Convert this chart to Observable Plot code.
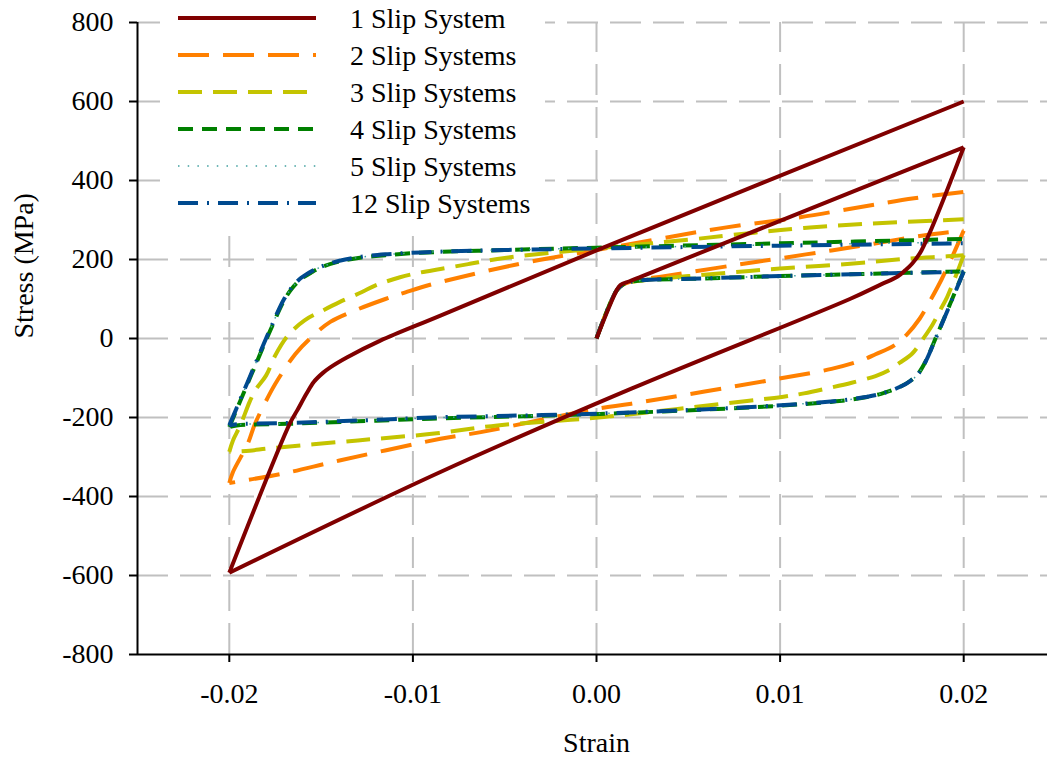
<!DOCTYPE html>
<html>
<head>
<meta charset="utf-8">
<script src="https://cdn.jsdelivr.net/npm/d3@7"></script>
<script src="https://cdn.jsdelivr.net/npm/@observablehq/plot@0.6"></script>
<style>
  html, body { margin: 0; padding: 0; background: #fff; overflow: hidden; }
  #chart { position: relative; width: 1047px; height: 761px; overflow: hidden; }
  #chart svg { display: block; }
  #legend { position: absolute; left: 160px; top: 0; }
</style>
</head>
<body>
<div id="chart"></div>
<script>
// Cyclic stress–strain loops (strain, stress in MPa) for crystals with different numbers of active slip systems.
const seriesNames = ["1 Slip System", "2 Slip Systems", "3 Slip Systems", "4 Slip Systems", "5 Slip Systems", "12 Slip Systems"];

// Each loop: initial loading to +0.02, reversed loading to -0.02, reloading to +0.02.
const slip1 = [
  [0, 0], [0.0011, 122], [0.0013, 135], [0.0018, 145], [0.0025, 158], [0.01, 298], [0.02, 484],
  [0.0177, 223], [0.0172, 190], [0.0168, 172], [0.0164, 157], [0.0155, 137], [0.0138, 100], [0.0019, -127], [-0.0085, -338], [-0.02, -593],
  [-0.0167, -215], [-0.0163, -182], [-0.0158, -140], [-0.0154, -110], [-0.0149, -87], [-0.0145, -73], [-0.0136, -48], [-0.0118, -6], [-0.0085, 58], [0, 223], [0.02, 600]
];
const slip2 = [
  [0, 0], [0.0011, 122], [0.0015, 138], [0.0025, 150], [0.0036, 157], [0.0051, 168], [0.0077, 187], [0.01, 203], [0.0128, 223], [0.0151, 240], [0.0178, 261], [0.02, 273],
  [0.0195, 220], [0.0188, 150], [0.0182, 98], [0.0176, 50], [0.0169, 10], [0.0162, -18], [0.0152, -40], [0.0144, -56], [0.0128, -77], [0.0094, -106], [0.0019, -165], [0, -178],
  [-0.0063, -237], [-0.0085, -254], [-0.014, -309], [-0.0172, -343], [-0.02, -366],
  [-0.0198, -338], [-0.019, -267], [-0.0186, -216], [-0.0179, -149], [-0.0175, -115], [-0.0164, -39], [-0.0156, 0], [-0.0145, 42], [-0.0131, 72], [-0.0115, 100], [-0.0104, 117], [-0.0089, 138], [-0.0041, 190], [0, 224],
  [0.0069, 280], [0.0111, 307], [0.0144, 333], [0.0173, 355], [0.02, 371]
];
const slip3 = [
  [0, 0], [0.0011, 122], [0.0015, 138], [0.0025, 147], [0.005, 158], [0.0075, 168], [0.01, 177], [0.014, 190], [0.0169, 202], [0.0191, 208], [0.02, 211],
  [0.0195, 150], [0.0191, 105], [0.0187, 70], [0.0183, 35], [0.0178, 0], [0.0172, -38], [0.0165, -62], [0.0159, -81], [0.0152, -95], [0.0139, -112], [0.0127, -125], [0.0113, -139], [0.0101, -148], [0.0082, -158], [0.0004, -199],
  [-0.0014, -206], [-0.0054, -220], [-0.0087, -240], [-0.012, -254], [-0.013, -258], [-0.0178, -278], [-0.0189, -284], [-0.02, -287],
  [-0.0198, -258], [-0.0194, -220], [-0.0189, -161], [-0.0186, -132], [-0.018, -94], [-0.0175, -43], [-0.0168, 8], [-0.0159, 46], [-0.0149, 71], [-0.014, 92], [-0.0128, 117], [-0.012, 135], [-0.0107, 155], [-0.0096, 167], [-0.0085, 176], [-0.0069, 189], [-0.005, 204], [0, 228],
  [0.005, 250], [0.0086, 268], [0.0113, 280], [0.0146, 290], [0.02, 302]
];
const slip4 = [
  [0, 0], [0.0011, 122], [0.0015, 138], [0.0024, 147], [0.0051, 151], [0.01, 158], [0.015, 164], [0.02, 170],
  [0.0193, 92], [0.0186, 15], [0.0179, -60], [0.0175, -90], [0.0171, -107], [0.0166, -121], [0.0155, -140], [0.014, -154], [0.0126, -161], [0.0097, -171], [0.0002, -191],
  [-0.009, -203], [-0.012, -208], [-0.0168, -216], [-0.0196, -220], [-0.02, -224],
  [-0.0196, -180], [-0.0192, -136], [-0.0188, -92], [-0.0184, -48], [-0.018, -4], [-0.0176, 38], [-0.0173, 70], [-0.017, 98], [-0.0166, 126], [-0.0161, 150], [-0.0155, 168], [-0.015, 180], [-0.014, 195], [-0.0128, 205], [-0.0115, 211], [-0.0096, 217], [-0.005, 224], [0, 230],
  [0.01, 241], [0.02, 252]
];
const slip5 = [
  [0, 0], [0.0011, 122], [0.0015, 138], [0.0024, 147], [0.0051, 151], [0.01, 158], [0.015, 164], [0.02, 169],
  [0.0193, 91], [0.0186, 14], [0.0179, -61], [0.0175, -91], [0.0171, -107], [0.0166, -121], [0.0155, -140], [0.014, -153], [0.0126, -160], [0.0097, -170], [0.0002, -190],
  [-0.009, -201], [-0.012, -207], [-0.0168, -215], [-0.0196, -218], [-0.02, -221],
  [-0.0196, -177], [-0.0192, -133], [-0.0188, -89], [-0.0184, -45], [-0.018, -1], [-0.0176, 41], [-0.0173, 73], [-0.017, 100], [-0.0166, 128], [-0.0161, 152], [-0.0155, 170], [-0.015, 181], [-0.014, 196], [-0.0128, 206], [-0.0115, 212], [-0.0096, 218], [-0.005, 224], [0, 229],
  [0.01, 237], [0.02, 244]
];
const slip12 = [
  [0, 0], [0.0011, 122], [0.0015, 138], [0.0024, 147], [0.0051, 151], [0.01, 158], [0.015, 164], [0.02, 169],
  [0.0193, 91], [0.0186, 14], [0.0179, -61], [0.0175, -91], [0.0171, -107], [0.0166, -121], [0.0155, -140], [0.014, -153], [0.0126, -160], [0.0097, -170], [0.0002, -190],
  [-0.009, -200], [-0.012, -206], [-0.0168, -214], [-0.0196, -217], [-0.02, -220],
  [-0.0196, -176], [-0.0192, -132], [-0.0188, -88], [-0.0184, -44], [-0.018, 0], [-0.0176, 42], [-0.0173, 74], [-0.017, 101], [-0.0166, 129], [-0.0161, 153], [-0.0155, 171], [-0.015, 182], [-0.014, 197], [-0.0128, 207], [-0.0115, 213], [-0.0096, 218], [-0.005, 224], [0, 228],
  [0.01, 235], [0.02, 241]
];
const seriesValues = [slip1, slip2, slip3, slip4, slip5, slip12];

const xTicks = [-0.02, -0.01, 0, 0.01, 0.02];
const yTicks = [-800, -600, -400, -200, 0, 200, 400, 600, 800];
const xDomain = [-0.025, 0.025];
const yDomain = [-800, 800];
const strainLimit = 0.02;

// Line styles per series
const seriesColors = ["#800000", "#ff8000", "#c4c400", "#008000", "#3f9f9f", "#004a8f"];
const seriesDashes = [null, "31,14", "24,11", "15,9", "1.5,8.2", "20,9,2,9"];
const seriesWidths = [4, 4, 4, 4, 1.5, 4];
const drawOrder = [1, 2, 3, 4, 5, 0];

// Use the first installed Times-like face; a font is installed when its
// measured width does not depend on the fallback family.
function installedFont(candidates) {
  const ctx = document.createElement("canvas").getContext("2d");
  const probe = "Slip Systems 0123456789 (MPa)";
  for (const name of candidates) {
    ctx.font = `28px "${name}", monospace`;
    const a = ctx.measureText(probe).width;
    ctx.font = `28px "${name}", sans-serif`;
    const b = ctx.measureText(probe).width;
    if (Math.abs(a - b) < 0.01) return name;
  }
  return null;
}
const serifFace = installedFont([
  "Liberation Serif", "Times New Roman", "Tinos", "Nimbus Roman", "Nimbus Roman No9 L",
  "FreeSerif", "Times", "DejaVu Serif", "Noto Serif", "Georgia"
]);
const font = serifFace ? `"${serifFace}", serif` : "serif";

// Split each loop into branches at the strain reversals (±0.02) so the
// smoothing curve never overshoots a turning point; the turning point
// belongs to both neighbouring branches.
const rows = seriesNames.flatMap((name, i) => {
  const out = [];
  let branch = 0;
  seriesValues[i].forEach(([strain, stress], k) => {
    out.push({ name, strain, stress, branch });
    const last = k === seriesValues[i].length - 1;
    if (!last && k > 0 && Math.abs(Math.abs(strain) - strainLimit) < 1e-9) {
      branch += 1;
      out.push({ name, strain, stress, branch });
    }
  });
  return out;
});

const gridColor = "#c0c0c0";

const lineMarks = drawOrder.map(i =>
  Plot.line(rows.filter(d => d.name === seriesNames[i]), {
    x: "strain",
    y: "stress",
    z: "branch",
    stroke: seriesColors[i],
    strokeWidth: seriesWidths[i],
    strokeDasharray: seriesDashes[i] ?? undefined,
    strokeLinejoin: "round",
    strokeLinecap: "butt",
    curve: "catmull-rom"
  })
);

const chart = Plot.plot({
  width: 1047,
  height: 761,
  marginLeft: 137,
  marginRight: 0,
  marginTop: 22,
  marginBottom: 107,
  style: { fontFamily: font, fontSize: "28px", background: "#fff", color: "#000" },
  x: { domain: xDomain, range: [137, 1055] },
  y: { domain: yDomain },
  marks: [
    // dashed grid
    Plot.ruleY(yTicks.filter(v => v !== yDomain[0]), {
      x1: xDomain[0], x2: xDomain[1], stroke: gridColor, strokeWidth: 2, strokeDasharray: "31,12"
    }),
    Plot.ruleX(xTicks, {
      y1: yDomain[0], y2: yDomain[1], stroke: gridColor, strokeWidth: 2, strokeDasharray: "31,12"
    }),
    ...lineMarks,
    // axes
    Plot.ruleX([xDomain[0]], { stroke: "#000", strokeWidth: 2 }),
    Plot.ruleY([yDomain[0]], { stroke: "#000", strokeWidth: 2 }),
    Plot.axisY({
      ticks: yTicks, tickSize: 8, tickPadding: 16, strokeWidth: 2, stroke: "#000",
      fontSize: 28, fontFamily: font, tickFormat: d => String(d), label: null
    }),
    Plot.axisX({
      ticks: xTicks, tickSize: 8, tickPadding: 21, strokeWidth: 2, stroke: "#000",
      fontSize: 28, fontFamily: font, tickFormat: d => d.toFixed(2), label: null
    }),
    Plot.text(["Strain"], { frameAnchor: "bottom", text: d => d, dy: 97, dx: 4, fontSize: 28, fontFamily: font }),
    Plot.text(["Stress (MPa)"], { frameAnchor: "left", text: d => d, dx: -113, rotate: -90, fontSize: 28, fontFamily: font })
  ]
});

const container = document.getElementById("chart");
container.appendChild(chart);

// Legend box with line samples, drawn over the top-left of the plot area
const legendW = 385, legendH = 236;
const legend = d3.create("svg")
  .attr("id", "legend")
  .attr("width", legendW)
  .attr("height", legendH);
legend.append("rect").attr("width", legendW).attr("height", legendH).attr("fill", "#fff");
const rowGap = 37, firstRow = 18;
seriesNames.forEach((name, i) => {
  const y = firstRow + i * rowGap;
  legend.append("line")
    .attr("x1", 18).attr("x2", 156).attr("y1", y).attr("y2", y)
    .attr("stroke", seriesColors[i])
    .attr("stroke-width", seriesWidths[i])
    .attr("stroke-dasharray", seriesDashes[i])
    .attr("stroke-linecap", "butt");
  legend.append("text")
    .attr("x", 190).attr("y", y + 10)
    .style("font-family", font)
    .attr("font-size", 28)
    .attr("fill", "#000")
    .text(name);
});
container.appendChild(legend.node());
</script>
</body>
</html>
